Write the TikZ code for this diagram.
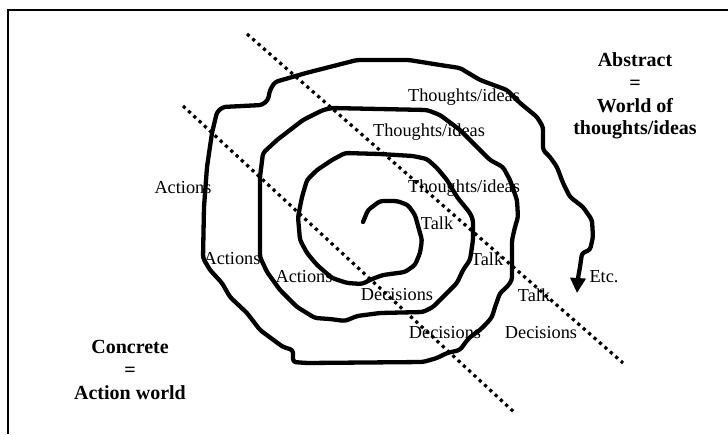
\documentclass[tikz,border=0pt]{standalone}
\usepackage{fontspec}
\setmainfont{Liberation Serif}
\usetikzlibrary{arrows.meta}
\begin{document}
\begin{tikzpicture}[x=1pt,y=-1pt,
  lab/.style={inner sep=0pt, font=\fontsize{18.3}{20}\selectfont},
  big/.style={inner sep=0pt, align=center, font=\fontsize{20}{22.7}\selectfont\bfseries},
  spiral/.style={line width=4.3pt, line join=round, line cap=round, rounded corners=3pt},
  dots/.style={line width=3.2pt, dash pattern=on 3.2pt off 4pt, line cap=butt},
  frame/.style={line width=1.8pt}]
\useasboundingbox (0,0) rectangle (728,434);
\coordinate (fa) at (728,10);
\coordinate (fb) at (8,10);
\coordinate (fc) at (8,434);
\draw[frame] (fa) -- (fb) -- (fc);
% dotted dividers
\coordinate (d1a) at (247,34);
\coordinate (d1b) at (623,363);
\coordinate (d2a) at (183,106);
\coordinate (d2b) at (515,413);
\draw[dots] (d1a) -- (d1b);
\draw[dots] (d2a) -- (d2b);
% spiral
\draw[spiral,-{Triangle[length=15pt,width=15pt]}]
 (363,222) -- (368,210) -- (380,201) -- (397,201) -- (408,205) -- (415,215) -- (420,233) -- (422,240)
 -- (420,253) -- (415,265) -- (405,272) -- (383,275) -- (372,279) -- (362,284) -- (347,283) -- (332,278)
 -- (317,265) -- (307,253) -- (300,240) -- (298,217) -- (302,197) -- (307,180) -- (317,170) -- (332,160)
 -- (345,153) -- (380,154) -- (413,156) -- (427,159) -- (437,168) -- (447,180) -- (457,197) -- (470,213)
 -- (473,220) -- (473,240) -- (470,260) -- (463,270) -- (457,283) -- (447,293) -- (433,307) -- (423,312)
 -- (380,313) -- (357,316) -- (345,321) -- (330,319) -- (315,318) -- (297,307) -- (280,290) -- (267,272)
 -- (260,257) -- (260,177) -- (263,153) -- (277,140) -- (290,130) -- (303,120) -- (323,110) -- (332,108)
 -- (427,110) -- (440,115) -- (460,130) -- (477,147) -- (490,160) -- (503,167) -- (510,180) -- (517,200)
 -- (518,217) -- (515,227) -- (512,240) -- (512,280) -- (507,287) -- (500,293) -- (495,307) -- (492,317)
 -- (487,323) -- (480,330) -- (470,337) -- (465,343) -- (460,350) -- (447,353) -- (437,358) -- (423,362)
 -- (307,363) -- (293,362) -- (293,350) -- (283,347) -- (260,330) -- (247,313) -- (230,297) -- (222,283)
 -- (210,270) -- (203,258) -- (204,207) -- (207,167) -- (212,133) -- (217,112) -- (223,107) -- (262,105)
 -- (268,100) -- (270,90) -- (275,82) -- (306,73) -- (357,60) -- (409,60) -- (440,65) -- (460,68)
 -- (480,80) -- (507,90) -- (520,103) -- (537,117) -- (543,127) -- (543,150) -- (550,157) -- (557,167)
 -- (563,183) -- (570,197) -- (583,207) -- (592,220) -- (593,237) -- (590,250) -- (582,253) -- (580,267)
 -- (578,278) -- (577,293);
% labels
\node[lab] (t1) at (464,97) {Thoughts/ideas};
\node[lab] (t2) at (429,132) {Thoughts/ideas};
\node[lab] (t3) at (464,188) {Thoughts/ideas};
\node[lab] (k1) at (437,223) {Talk};
\node[lab] (k2) at (487,259) {Talk};
\node[lab] (k3) at (534,295) {Talk};
\node[lab] (a1) at (183,188) {Actions};
\node[lab] (a2) at (232,259) {Actions};
\node[lab] (a3) at (304,277) {Actions};
\node[lab] (de1) at (397,295) {Decisions};
\node[lab] (de2) at (445,333) {Decisions};
\node[lab] (de3) at (541,333) {Decisions};
\node[lab] (etc) at (604,277) {Etc.};
\node[big] (abs) at (635,96) {Abstract\\=\\World of\\thoughts/ideas};
\node[big] (con) at (130,370) {Concrete\\=\\Action world};
\end{tikzpicture}
\end{document}
